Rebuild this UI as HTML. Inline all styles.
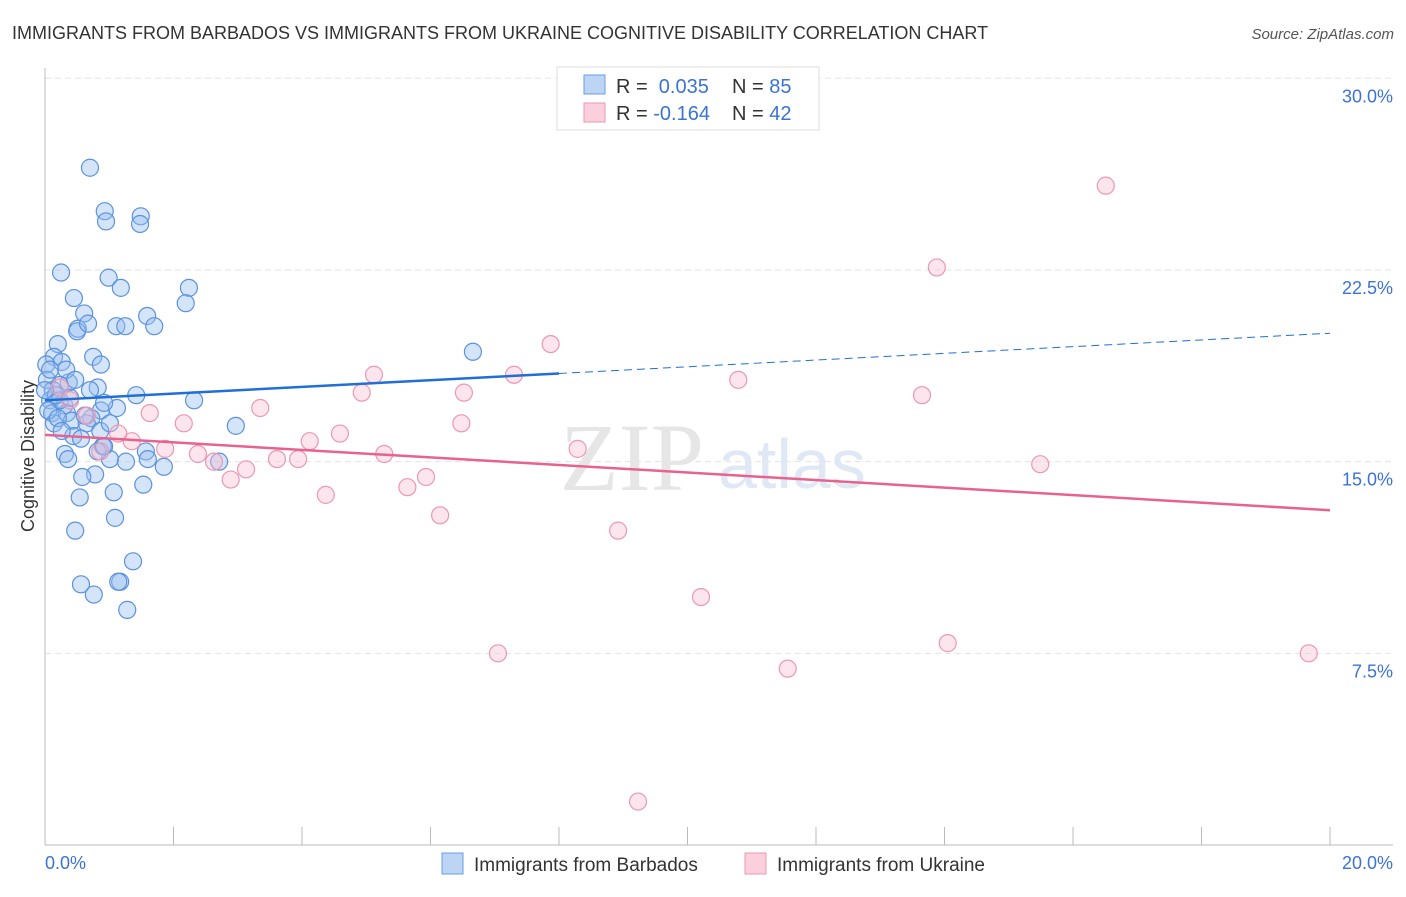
<!DOCTYPE html>
<html><head><meta charset="utf-8"><style>
body{margin:0;background:#fff;font-family:"Liberation Sans",sans-serif}
</style></head><body>
<svg width="1406" height="892" xmlns="http://www.w3.org/2000/svg">
<text x="12" y="39" font-size="18" fill="#333">IMMIGRANTS FROM BARBADOS VS IMMIGRANTS FROM UKRAINE COGNITIVE DISABILITY CORRELATION CHART</text>
<text x="1394" y="39" font-size="15" fill="#555" font-style="italic" text-anchor="end">Source: ZipAtlas.com</text>
<g id="grid"></g>
<line x1="45" y1="68" x2="45" y2="845" stroke="#bbb"/>
<line x1="45" y1="845" x2="1393" y2="845" stroke="#bbb"/>
<text x="560" y="490" font-size="96" fill="#e6e6e6" font-family="Liberation Serif">ZIP</text>
<text x="718" y="488" font-size="70" fill="#dfe8f4">atlas</text>
<text transform="translate(34,456) rotate(-90)" font-size="18" fill="#333" text-anchor="middle">Cognitive Disability</text>
<text x="45" y="869" font-size="18" fill="#3b73d4">0.0%</text>
<text x="1393" y="869" font-size="18" fill="#3b73d4" text-anchor="end">20.0%</text>
<g id="ticks"></g>
<g id="pts"></g>
<g id="lines"></g>
<rect x="557" y="67" width="262" height="63" fill="#fff" stroke="#ddd"/>
<rect x="584" y="75" width="21" height="19" fill="#bcd5f5" stroke="#6a9be0"/>
<rect x="584" y="103" width="21" height="19" fill="#fbcfdc" stroke="#ec97b3"/>
<text x="616" y="93" font-size="20" fill="#333">R = <tspan fill="#3b73d4">&#160;0.035</tspan><tspan x="732">N = </tspan><tspan fill="#3b73d4">85</tspan></text>
<text x="616" y="120" font-size="20" fill="#333">R = <tspan fill="#3b73d4">-0.164</tspan><tspan x="732">N = </tspan><tspan fill="#3b73d4">42</tspan></text>
<rect x="442" y="853" width="21" height="21" fill="#bcd5f5" stroke="#6a9be0"/>
<text x="474" y="871" font-size="19" fill="#333">Immigrants from Barbados</text>
<rect x="745" y="853" width="21" height="21" fill="#fbcfdc" stroke="#ec97b3"/>
<text x="777" y="871" font-size="19" fill="#333">Immigrants from Ukraine</text>
</svg>
<script>
const yTicks=[7.5,15,22.5,30];
const xTicks=[0,2,4,6,8,10,12,14,16,18,20];
const blueX=[0.70,0.93,0.95,1.49,1.48,0.25,0.99,1.18,2.24,0.45,2.19,0.61,1.11,1.25,1.59,1.70,0.51,0.50,0.67,0.20,0.75,0.14,0.26,0.87,0.02,0.03,0.37,0.82,0.23,0.12,1.42,2.32,0.08,0.30,0.87,1.12,0.11,0.34,0.72,0.14,0.42,0.65,2.97,0.86,0.44,0.56,0.90,1.57,0.31,0.36,1.01,1.26,1.60,1.85,2.71,0.78,0.58,0.54,1.07,1.53,0.47,1.09,1.37,1.17,1.14,0.56,0.76,1.28,6.66,0.23,0.05,0.17,0.39,0.62,0.20,0.26,1.01,0.00,0.08,0.33,0.47,0.70,0.92,0.82,0.92];
const blueY=[26.5,24.8,24.4,24.6,24.3,22.4,22.2,21.8,21.8,21.4,21.2,20.8,20.3,20.3,20.7,20.3,20.2,20.1,20.4,19.6,19.1,19.1,18.9,18.8,18.8,18.2,18.1,17.9,18.0,17.8,17.6,17.4,17.4,17.2,17.0,17.1,16.9,16.9,16.7,16.5,16.6,16.5,16.4,16.2,16.0,15.9,15.6,15.4,15.3,15.1,15.1,15.0,15.1,14.8,15.0,14.5,14.4,13.6,13.8,14.1,12.3,12.8,11.1,10.3,10.3,10.2,9.8,9.2,19.3,17.4,17.0,17.6,17.5,16.8,16.7,16.2,16.5,17.8,18.6,18.6,18.2,17.8,17.3,15.4,15.6];
const pinkX=[16.51,13.88,7.87,5.12,7.30,10.79,4.93,6.52,13.65,3.35,1.63,0.65,4.12,4.59,6.48,2.16,1.35,1.87,8.29,2.38,5.28,2.63,3.61,3.94,15.49,3.13,2.89,5.93,5.64,4.37,6.15,8.92,10.21,7.05,14.05,19.67,11.56,9.23,0.23,0.39,0.86,1.14];
const pinkY=[25.8,22.6,19.6,18.4,18.4,18.2,17.7,17.7,17.6,17.1,16.9,16.8,15.8,16.1,16.5,16.5,15.8,15.5,15.5,15.3,15.3,15.0,15.1,15.1,14.9,14.7,14.3,14.4,14.0,13.7,12.9,12.3,9.7,7.5,7.9,7.5,6.9,1.7,17.9,17.4,15.4,16.1];
const blueTrend=[0,17.4,8,18.45,20,20.1];
const pinkTrend=[0,16.05,20,13.1];
const X=v=>45+v/20*1285, Y=v=>845-v/30*766.7;
const NS="http://www.w3.org/2000/svg";
function mk(t,a,p){const e=document.createElementNS(NS,t);for(const k in a)e.setAttribute(k,a[k]);document.getElementById(p).appendChild(e);return e;}
yTicks.forEach(t=>{
 const l=mk('line',{x1:45,x2:1393,y1:Y(t),y2:Y(t),stroke:'#e3e3e3','stroke-dasharray':'6 4'},'grid');
 
 
 const tx=mk('text',{x:1393,y:Y(t)+24,'font-size':18,fill:'#3b73d4','text-anchor':'end'},'ticks');
 tx.textContent=t.toFixed(1)+'%';
 
 
});
xTicks.forEach(t=>{
 const l=mk('line',{x1:X(t),x2:X(t),y1:827,y2:845,stroke:'#bbb'},'ticks');
 
 
});
blueX.forEach((v,i)=>{
 const c=mk('circle',{cx:X(v),cy:Y(blueY[i]),r:8.5,fill:'rgba(150,190,240,0.4)',stroke:'#5b92de','stroke-width':1.2},'pts');
 
 
});
pinkX.forEach((v,i)=>{
 const c=mk('circle',{cx:X(v),cy:Y(pinkY[i]),r:8.5,fill:'rgba(248,190,208,0.4)',stroke:'#ec97b3','stroke-width':1.2},'pts');
 
 
});
const bs=(blueTrend[3]-blueTrend[1])/(blueTrend[2]-blueTrend[0]);
const b1=mk('line',{x1:X(0),y1:Y(blueTrend[1]),x2:X(blueTrend[2]),y2:Y(blueTrend[3]),stroke:'#1f6fd6','stroke-width':2.5},'lines');


const b2=mk('line',{x1:X(blueTrend[2]),y1:Y(blueTrend[3]),x2:X(20),y2:Y(blueTrend[3]+bs*(20-blueTrend[2])),stroke:'#1f6fd6','stroke-width':1,'stroke-dasharray':'8 5'},'lines');


const p1=mk('line',{x1:X(pinkTrend[0]),y1:Y(pinkTrend[1]),x2:X(pinkTrend[2]),y2:Y(pinkTrend[3]),stroke:'#e8628e','stroke-width':2.5},'lines');


</script>
</body></html>
